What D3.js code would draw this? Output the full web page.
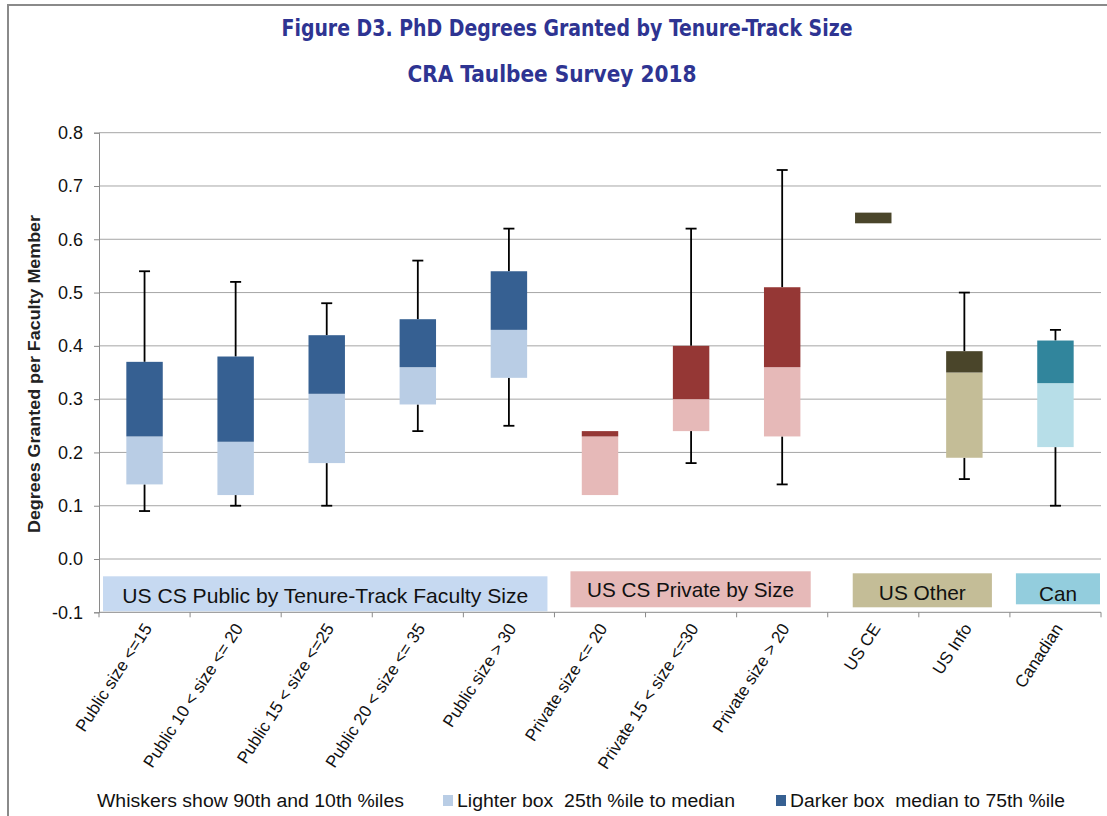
<!DOCTYPE html>
<html lang="en">
<head>
  <meta charset="UTF-8">
  <title>PhD Degrees Granted by Tenure-Track Size</title>
  <style>
    body {
      margin: 0;
      background: #fff;
      font-family: "Liberation Sans", Arial, sans-serif;
    }
    .title {
      font-family: "Liberation Sans Narrow", "DejaVu Sans Condensed", "Liberation Sans", sans-serif;
      font-weight: bold;
      fill: #2e3492;
    }
  </style>
</head>
<body>
  <script src="https://d3js.org/d3.v7.min.js"></script>
  <script>
    // categories and box stats (10th, 25th, median, 75th, 90th percentile)
    const categories = [
      'Public size <=15', 'Public 10 < size <= 20', 'Public 15 < size <=25',
      'Public 20 < size <= 35', 'Public size > 30', 'Private size <= 20',
      'Private 15 < size <=30', 'Private size > 20', 'US CE', 'US Info', 'Canadian'
    ];
    const p10    = [0.09, 0.10, 0.10, 0.24, 0.25, null, 0.18, 0.14, null, 0.15, 0.10];
    const p25    = [0.14, 0.12, 0.18, 0.29, 0.34, 0.12, 0.24, 0.23, 0.63, 0.19, 0.21];
    const median = [0.23, 0.22, 0.31, 0.36, 0.43, 0.23, 0.30, 0.36, 0.63, 0.35, 0.33];
    const p75    = [0.37, 0.38, 0.42, 0.45, 0.54, 0.24, 0.40, 0.51, 0.65, 0.39, 0.41];
    const p90    = [0.54, 0.52, 0.48, 0.56, 0.62, null, 0.62, 0.73, null, 0.50, 0.43];
    const groupOf = ['public', 'public', 'public', 'public', 'public',
                     'private', 'private', 'private', 'other', 'other', 'can'];

    const groupNames = ['public', 'private', 'other', 'can'];
    const groupLabels = ['US CS Public by Tenure-Track Faculty Size', 'US CS Private by Size', 'US Other', 'Can'];
    const groupFirst = [0, 5, 8, 10];
    const groupLast = [4, 7, 9, 10];

    const yTicks = [-0.1, 0.0, 0.1, 0.2, 0.3, 0.4, 0.5, 0.6, 0.7, 0.8];

    // colours per group
    const lightColor = {public: '#b9cde5', private: '#e6b9b8', other: '#c4bd97', can: '#b7dee8'};
    const darkColor  = {public: '#366092', private: '#953735', other: '#4a452a', can: '#31859c'};
    const bannerColor = {public: '#c6d9f1', private: '#e6b9b8', other: '#c4bd97', can: '#93cddd'};
    // banner layout: [left inset, right inset, top above axis, bottom above axis, text baseline above axis, text width]
    const bannerBox = {
      public:  [4, 7, 36, 1, 9, 406],
      private: [16, 17, 41, 5, 15, 207],
      other:   [25, 18, 39, 5, 12, 87],
      can:     [6, 1, 39, 8, 11, 38]
    };

    const W = 1107, H = 816;
    const svg = d3.select('body').append('svg')
      .attr('width', W)
      .attr('height', H);

    // outer frame
    svg.append('path')
      .attr('d', `M8,${H} V5 H${W}`)
      .attr('fill', 'none')
      .attr('stroke', '#8a8a8a')
      .attr('stroke-width', 2);

    svg.append('text').attr('class', 'title')
      .attr('x', 567).attr('y', 36)
      .attr('text-anchor', 'middle')
      .attr('font-size', 23)
      .attr('textLength', 571).attr('lengthAdjust', 'spacingAndGlyphs')
      .text('Figure D3. PhD Degrees Granted by Tenure-Track Size');
    svg.append('text').attr('class', 'title')
      .attr('x', 552).attr('y', 82)
      .attr('text-anchor', 'middle')
      .attr('font-size', 23)
      .attr('textLength', 289).attr('lengthAdjust', 'spacingAndGlyphs')
      .text('CRA Taulbee Survey 2018');

    const x = d3.scaleBand().domain(categories).range([99, 1101]).padding(0);
    const y = d3.scaleLinear().domain([-0.1, 0.8]).range([612.3, 132.7]);

    // gridlines
    svg.append('g').selectAll('line')
      .data(yTicks.filter(t => t > -0.1))
      .enter().append('line')
        .attr('x1', 99).attr('x2', 1101)
        .attr('y1', d => y(d)).attr('y2', d => y(d))
        .attr('stroke', '#a6a6a6')
        .attr('stroke-width', 1);

    // y axis
    const yAxis = svg.append('g')
      .attr('transform', 'translate(99,0)')
      .call(d3.axisLeft(y).tickValues(yTicks).tickSize(5).tickPadding(11)
        .tickFormat(d => d.toFixed(1)));
    yAxis.select('.domain').attr('stroke', '#8a8a8a');
    yAxis.selectAll('.tick line').attr('stroke', '#8a8a8a');
    yAxis.selectAll('.tick text')
      .attr('font-family', '"Liberation Sans", Arial, sans-serif')
      .attr('font-size', 18)
      .attr('fill', '#111');

    svg.append('text')
      .attr('transform', 'translate(40,374) rotate(-90)')
      .attr('text-anchor', 'middle')
      .attr('font-size', 17)
      .attr('font-weight', 'bold')
      .attr('fill', '#222')
      .attr('textLength', 318).attr('lengthAdjust', 'spacingAndGlyphs')
      .text('Degrees Granted per Faculty Member');

    // group banners
    groupNames.forEach((g, i) => {
      const b = bannerBox[g];
      const x0 = x(categories[groupFirst[i]]) + b[0];
      const x1 = x(categories[groupLast[i]]) + x.bandwidth() - b[1];
      const yb = y(-0.1);
      svg.append('rect')
        .attr('x', x0).attr('y', yb - b[2])
        .attr('width', x1 - x0).attr('height', b[2] - b[3])
        .attr('fill', bannerColor[g]);
      svg.append('text')
        .attr('x', (x0 + x1) / 2).attr('y', yb - b[4])
        .attr('text-anchor', 'middle')
        .attr('font-size', 21)
        .attr('fill', '#111')
        .attr('textLength', b[5]).attr('lengthAdjust', 'spacingAndGlyphs')
        .text(groupLabels[i]);
    });

    // x axis
    const xAxisG = svg.append('g').attr('transform', `translate(0,${y(-0.1)})`);
    xAxisG.append('line')
      .attr('x1', 99).attr('x2', 1101)
      .attr('stroke', '#8a8a8a');
    xAxisG.selectAll('line.tk')
      .data(categories.concat(['end']))
      .enter().append('line').attr('class', 'tk')
        .attr('x1', (d, i) => 99 + i * x.bandwidth())
        .attr('x2', (d, i) => 99 + i * x.bandwidth())
        .attr('y1', 0).attr('y2', 5)
        .attr('stroke', '#8a8a8a');
    xAxisG.selectAll('text')
      .data(categories)
      .enter().append('text')
        .attr('transform', d => `translate(${x(d) + x.bandwidth() / 2 + 8},${16}) rotate(-57)`)
        .attr('text-anchor', 'end')
        .attr('font-size', 17)
        .attr('fill', '#111')
        .text(d => d);

    // boxes
    const boxW = x.bandwidth() * 0.4;
    const capW = 11;
    const boxes = svg.append('g');
    categories.forEach((c, i) => {
      const cx = x(c) + x.bandwidth() / 2;
      const g = groupOf[i];
      // whiskers first
      if (p90[i] != null) {
        boxes.append('line')
          .attr('x1', cx).attr('x2', cx)
          .attr('y1', y(p90[i])).attr('y2', y(p75[i]))
          .attr('stroke', '#000').attr('stroke-width', 1.8);
        boxes.append('line')
          .attr('x1', cx - capW / 2).attr('x2', cx + capW / 2)
          .attr('y1', y(p90[i])).attr('y2', y(p90[i]))
          .attr('stroke', '#000').attr('stroke-width', 1.8);
      }
      if (p10[i] != null) {
        boxes.append('line')
          .attr('x1', cx).attr('x2', cx)
          .attr('y1', y(p25[i])).attr('y2', y(p10[i]))
          .attr('stroke', '#000').attr('stroke-width', 1.8);
        boxes.append('line')
          .attr('x1', cx - capW / 2).attr('x2', cx + capW / 2)
          .attr('y1', y(p10[i])).attr('y2', y(p10[i]))
          .attr('stroke', '#000').attr('stroke-width', 1.8);
      }
      boxes.append('rect')
        .attr('x', cx - boxW / 2).attr('y', y(median[i]))
        .attr('width', boxW).attr('height', y(p25[i]) - y(median[i]))
        .attr('fill', lightColor[g]);
      boxes.append('rect')
        .attr('x', cx - boxW / 2).attr('y', y(p75[i]))
        .attr('width', boxW).attr('height', y(median[i]) - y(p75[i]))
        .attr('fill', darkColor[g]);
    });

    // legend
    const leg = svg.append('g').attr('font-size', 18).attr('fill', '#111');
    leg.append('text').attr('x', 97).attr('y', 807)
      .attr('textLength', 307).attr('lengthAdjust', 'spacingAndGlyphs')
      .text('Whiskers show 90th and 10th %iles');
    leg.append('rect').attr('x', 443).attr('y', 795).attr('width', 10).attr('height', 11).attr('fill', lightColor.public);
    leg.append('text').attr('x', 457).attr('y', 807).attr('xml:space', 'preserve')
      .attr('textLength', 278).attr('lengthAdjust', 'spacingAndGlyphs')
      .text('Lighter box  25th %ile to median');
    leg.append('rect').attr('x', 776).attr('y', 795).attr('width', 10).attr('height', 11).attr('fill', darkColor.public);
    leg.append('text').attr('x', 790).attr('y', 807).attr('xml:space', 'preserve')
      .attr('textLength', 275).attr('lengthAdjust', 'spacingAndGlyphs')
      .text('Darker box  median to 75th %ile');
  </script>
</body>
</html>
